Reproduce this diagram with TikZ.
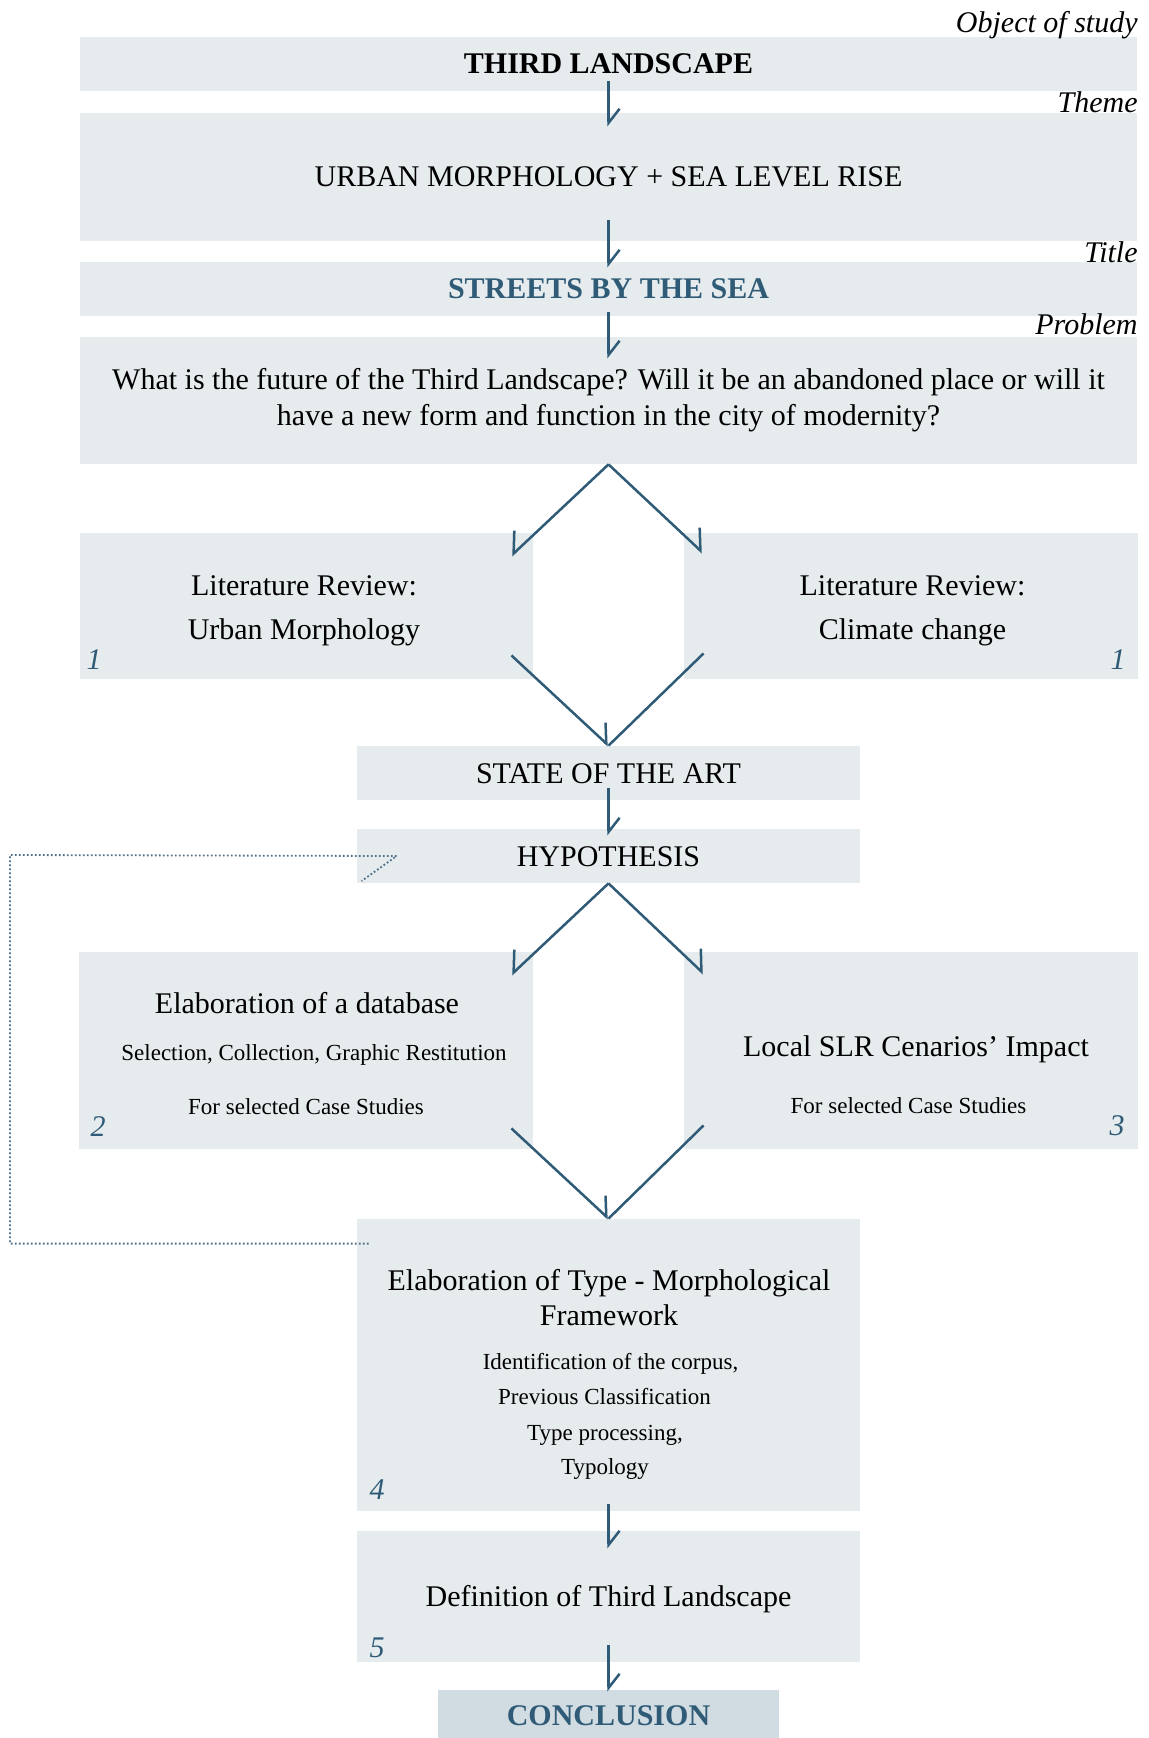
\documentclass[tikz,border=0pt]{standalone}
\usepackage{fontspec}
\setmainfont{Liberation Serif}
\usetikzlibrary{arrows.meta, positioning}

\definecolor{boxgray}{HTML}{E6EBEE}
\definecolor{concgray}{HTML}{D1DCE2}
\definecolor{seablue}{HTML}{2F5B77}
\definecolor{dotblue}{HTML}{4F7088}

\begin{document}
\begin{tikzpicture}[x=0.5pt, y=-0.5pt,
  box/.style={fill=boxgray, inner sep=0pt, align=center, font=\fontsize{15}{18}\selectfont},
  onebox/.style={box, text height=10pt, text depth=0pt},
  txt/.style={anchor=base, inner sep=0pt, font=\fontsize{15}{18}\selectfont},
  small/.style={anchor=base, inner sep=0pt, font=\fontsize{11.5}{14}\selectfont},
  side/.style={anchor=base east, inner sep=0pt, font=\fontsize{15}{18}\selectfont\itshape},
  num/.style={inner sep=0pt, font=\fontsize{15}{18}\selectfont\itshape, text=seablue},
  flow/.style={draw=seablue, line width=1.25pt},
  down/.style={flow, -{Straight Barb[harpoon, angle=76:9pt]}},
  goleft/.style={flow, -{Straight Barb[harpoon, swap, angle=90:11.5pt]}},
  goright/.style={flow, -{Straight Barb[harpoon, angle=90:11.5pt]}},
  loopback/.style={draw=dotblue, line width=0.9pt, dash pattern=on 0.9pt off 1.1pt}]
  \useasboundingbox (0,0) rectangle (1148,1738);

  % top column
  \node[onebox, minimum width=528.5pt, minimum height=27pt, font=\fontsize{15}{18}\selectfont\bfseries] (obj) at (608.5,64) {THIRD LANDSCAPE};
  \node[onebox, minimum width=528.5pt, minimum height=64pt] (theme) at (608.5,177) {URBAN MORPHOLOGY + SEA LEVEL RISE};
  \node[onebox, minimum width=528.5pt, minimum height=27pt, font=\fontsize{15}{18}\selectfont\bfseries, text=seablue] (title) at (608.5,289) {STREETS BY THE SEA};
  \node[box, minimum width=528.5pt, minimum height=63.5pt] (problem) at (608.5,400.5) {What is the future of the Third Landscape? Will it be an abandoned place or will it\\have a new form and function in the city of modernity?};

  % side labels
  \node[side] (lobj) at (1138,33) {Object of study};
  \node[side] (ltheme) at (1138,113) {Theme};
  \node[side] (ltitle) at (1138,263) {Title};
  \node[side] (lproblem) at (1138,335) {Problem};

  % literature review
  \node[box, minimum width=226.5pt, minimum height=73pt] (litA) at (306.5,606) {};
  \node[txt] (litAa) at (304,595) {Literature Review:};
  \node[txt] (litAb) at (304,639) {Urban Morphology};
  \node[box, minimum width=227pt, minimum height=73pt] (litB) at (911,606) {};
  \node[txt] (litBa) at (912.5,595) {Literature Review:};
  \node[txt] (litBb) at (912.5,639) {Climate change};
  \node[num] (n1a) at (94,660) {1};
  \node[num] (n1b) at (1118,660) {1};

  % state of the art, hypothesis
  \node[onebox, minimum width=251.5pt, minimum height=27pt] (art) at (608.5,773) {STATE OF THE ART};
  \node[onebox, minimum width=251.5pt, minimum height=27pt] (hyp) at (608.5,856) {HYPOTHESIS};

  % database and scenarios
  \node[box, minimum width=227pt, minimum height=98.5pt] (db) at (306,1050.5) {};
  \node[txt] (dbA) at (307,1013) {Elaboration of a database};
  \node[small] (dbB) at (314,1060.5) {Selection, Collection, Graphic Restitution};
  \node[small] (dbC) at (306,1114.5) {For selected Case Studies};
  \node[num] (n2) at (98,1127) {2};
  \node[box, minimum width=227pt, minimum height=98.5pt] (slr) at (911,1050.5) {};
  \node[txt] (slrA) at (916,1056) {Local SLR Cenarios’ Impact};
  \node[small] (slrB) at (908.5,1113.5) {For selected Case Studies};
  \node[num] (n3) at (1117,1126) {3};

  % framework
  \node[box, minimum width=251.5pt, minimum height=146pt] (frame) at (608.5,1365) {};
  \node[txt] (frA) at (609,1290) {Elaboration of Type - Morphological};
  \node[txt] (frB) at (609,1325) {Framework};
  \node[small] (frC) at (610.5,1369) {Identification of the corpus,};
  \node[small] (frD) at (604.5,1404) {Previous Classification};
  \node[small] (frE) at (605,1440) {Type processing,};
  \node[small] (frF) at (605,1474) {Typology};
  \node[num] (n4) at (377,1490) {4};

  \node[onebox, minimum width=251.5pt, minimum height=65.5pt] (def) at (608.5,1596.5) {Definition of Third Landscape};
  \node[num] (n5) at (377,1648) {5};
  \node[onebox, fill=concgray, minimum width=170.5pt, minimum height=25pt, font=\fontsize{15}{18}\selectfont\bfseries, text=seablue] (conc) at (608.5,1715) {CONCLUSION};

  % arrows
  \draw[down] ([yshift=5pt]obj.south) -- ([yshift=-7pt]theme.north);
  \draw[down] ([yshift=10.5pt]theme.south) -- ([yshift=-3pt]title.north);
  \draw[down] ([yshift=2pt]title.south) -- ([yshift=-11pt]problem.north);
  \draw[goleft] (problem.south) -- ([xshift=-11pt,yshift=-11.5pt]litA.north east);
  \draw[goright] (problem.south) -- ([xshift=9.5pt,yshift=-10pt]litB.north west);
  \draw[flow, -{Straight Barb[harpoon, angle=90:10.5pt]}] ([xshift=-11pt,yshift=12pt]litA.south east) -- (art.north);
  \draw[flow] ([xshift=10pt,yshift=13pt]litB.south west) -- (art.north);
  \draw[down] ([yshift=6pt]art.south) -- ([yshift=-3.5pt]hyp.north);
  \draw[goleft] (hyp.south) -- ([xshift=-11pt,yshift=-11.5pt]db.north east);
  \draw[goright] (hyp.south) -- ([xshift=10pt,yshift=-11pt]slr.north west);
  \draw[flow, -{Straight Barb[harpoon, angle=90:10.5pt]}] ([xshift=-11pt,yshift=10.5pt]db.south east) -- (frame.north);
  \draw[flow] ([xshift=10pt,yshift=12pt]slr.south west) -- (frame.north);
  \draw[down] ([yshift=3.5pt]frame.south) -- ([yshift=-9pt]def.north);
  \draw[down] ([yshift=8.5pt]def.south) -- ([yshift=-1pt]conc.north);

  % dotted return to the hypothesis
  \coordinate (back) at (10,855);
  \draw[loopback] ([xshift=6pt,yshift=-12.5pt]frame.north west) -| (back) -- ([xshift=20pt]hyp.west) -- ++(-35,25);
\end{tikzpicture}
\end{document}
